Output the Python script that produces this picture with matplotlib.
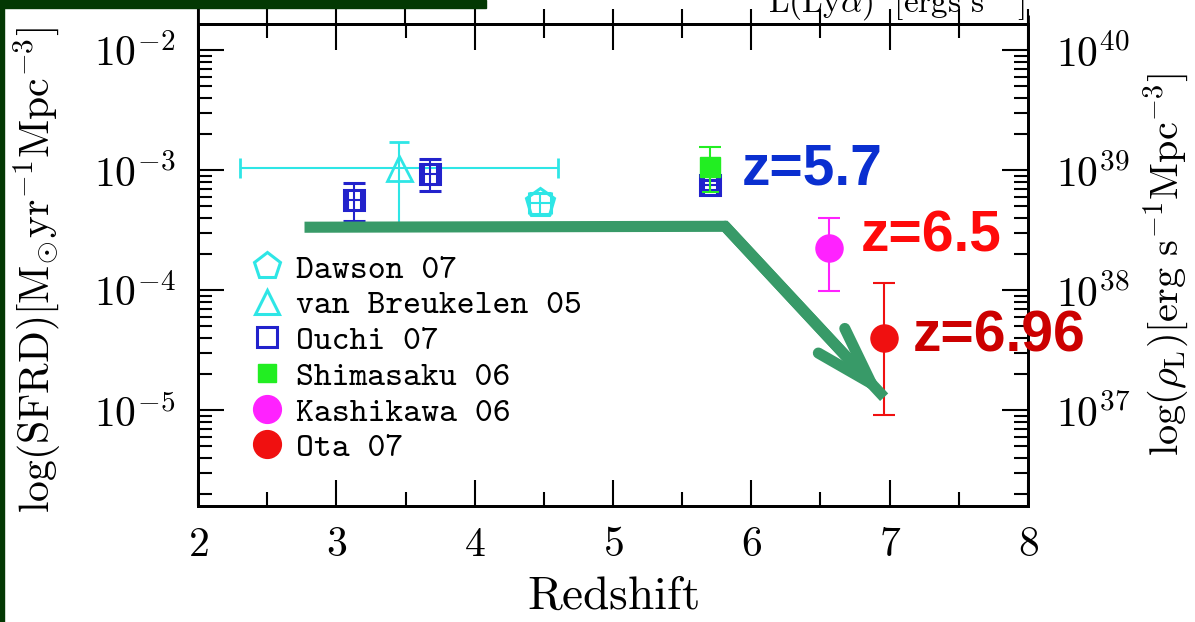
import numpy as np
import matplotlib
matplotlib.use('Agg')
import matplotlib.pyplot as plt
from matplotlib.lines import Line2D
from matplotlib.patches import Rectangle
from matplotlib.ticker import MultipleLocator, FuncFormatter, LogLocator, NullFormatter

plt.rcParams['mathtext.fontset'] = 'cm'
plt.rcParams['font.family'] = ['DejaVu Serif']

# ---------------- data ----------------
dawson_z = [4.47]
dawson_sfrd = [5.3e-4]
dawson_lo = [4.3e-4]
dawson_hi = [6.5e-4]
dawson_zerr = [0.08]

vb_z = [3.45]
vb_sfrd = [1.04e-3]
vb_lo = [3.2e-4]
vb_hi = [1.71e-3]
vb_zerr = [1.15]

ouchi_z = [3.13, 3.68, 5.70]
ouchi_sfrd = [5.7e-4, 9.4e-4, 7.5e-4]
ouchi_lo = [3.8e-4, 6.7e-4, 6.8e-4]
ouchi_hi = [7.9e-4, 1.24e-3, 8.3e-4]
ouchi_zerr = [0.05, 0.05, 0.05]

shim_z = [5.70]
shim_sfrd = [1.06e-3]
shim_lo = [6.6e-4]
shim_hi = [1.56e-3]

kash_z = [6.56]
kash_sfrd = [2.24e-4]
kash_lo = [9.8e-5]
kash_hi = [3.98e-4]

ota_z = [6.96]
ota_sfrd = [3.98e-5]
ota_lo = [9.1e-6]
ota_hi = [1.14e-4]

trend_z = [2.77, 5.81, 6.96]
trend_sfrd = [3.35e-4, 3.41e-4, 1.28e-5]

legend_labels = ['Dawson 07', 'van Breukelen 05', 'Ouchi 07',
                 'Shimasaku 06', 'Kashikawa 06', 'Ota 07']

z_labels = ['z=5.7', 'z=6.5', 'z=6.96']
z_label_z = [5.93, 6.79, 7.17]
z_label_sfrd = [1.02e-3, 2.8e-4, 4.1e-5]
z_label_colors = ['#0a2fd0', '#ff0a0a', '#cc0000']

xlim = (2, 8)
ylim = (10 ** -5.8, 10 ** -1.78)
rho_factor = 1e42

CYAN = '#2ee6e6'
BLUE = '#2222cc'
GREEN = '#22ee22'
MAGENTA = '#ff22ff'
RED = '#f01010'
ARROW = '#389a68'
DARKGREEN = '#033803'


def yerr(v, lo, hi):
    v = np.asarray(v); lo = np.asarray(lo); hi = np.asarray(hi)
    return [v - lo, hi - v]


fig = plt.figure(figsize=(11.95, 6.22), dpi=100)
ax = fig.add_axes([198 / 1195, 116 / 622, 830 / 1195, 482 / 622])
ax.set_xscale('linear')
ax.set_yscale('log')
ax.set_xlim(*xlim)
ax.set_ylim(*ylim)

eb_kw = dict(ls='none', elinewidth=1.5, capthick=1.5, zorder=3)

ax.errorbar(vb_z, vb_sfrd, yerr=yerr(vb_sfrd, vb_lo, vb_hi), xerr=vb_zerr,
            marker='^', ms=18, mfc='none', mec=CYAN, mew=2, color=CYAN,
            capsize=7, **eb_kw)
ax.errorbar(ouchi_z, ouchi_sfrd, yerr=yerr(ouchi_sfrd, ouchi_lo, ouchi_hi),
            xerr=ouchi_zerr, marker='s', ms=15, mfc='none', mec=BLUE, mew=2.2,
            color=BLUE, capsize=8, **eb_kw)
ax.errorbar(dawson_z, dawson_sfrd, yerr=yerr(dawson_sfrd, dawson_lo, dawson_hi),
            xerr=dawson_zerr, marker='p', ms=21, mfc='none', mec=CYAN, mew=2.2,
            color=CYAN, capsize=8, **eb_kw)
ax.errorbar(shim_z, shim_sfrd, yerr=yerr(shim_sfrd, shim_lo, shim_hi),
            marker='s', ms=14, mfc=GREEN, mec=GREEN, color=GREEN,
            capsize=8, **eb_kw)
ax.errorbar(kash_z, kash_sfrd, yerr=yerr(kash_sfrd, kash_lo, kash_hi),
            marker='o', ms=19.5, mfc=MAGENTA, mec=MAGENTA, color=MAGENTA,
            capsize=8, **eb_kw)
ax.errorbar(ota_z, ota_sfrd, yerr=yerr(ota_sfrd, ota_lo, ota_hi),
            marker='o', ms=19.5, mfc=RED, mec=RED, color=RED,
            capsize=8, **eb_kw)

# green trend arrow
ax.plot(trend_z, trend_sfrd, color=ARROW, lw=8, solid_joinstyle='miter',
        solid_capstyle='butt', zorder=5)
ax.annotate('', xy=(trend_z[-1], trend_sfrd[-1]),
            xytext=(trend_z[-2], trend_sfrd[-2]),
            arrowprops=dict(arrowstyle='->,head_length=42,head_width=13',
                            mutation_scale=1, lw=8, color=ARROW,
                            shrinkA=0, shrinkB=0, capstyle='round'),
            zorder=6)

# axes styling
for s in ax.spines.values():
    s.set_linewidth(2)
ax.xaxis.set_major_locator(MultipleLocator(1))
ax.xaxis.set_minor_locator(MultipleLocator(0.5))
ax.xaxis.set_major_formatter(FuncFormatter(lambda v, p: r'$%d$' % round(v)))
ax.yaxis.set_major_locator(LogLocator(base=10, numticks=20))
ax.yaxis.set_minor_locator(LogLocator(base=10, subs=np.arange(2, 10), numticks=20))
ax.yaxis.set_major_formatter(
    FuncFormatter(lambda v, p: r'$10^{%d}$' % round(np.log10(v))))
ax.yaxis.set_minor_formatter(NullFormatter())
ax.tick_params(axis='both', which='both', direction='in', width=1.5,
               top=True, right=False, labelsize=30)
ax.tick_params(axis='both', which='major', length=19)
ax.tick_params(axis='both', which='minor', length=10)
ax.tick_params(axis='x', which='major', pad=12)
ax.tick_params(axis='y', which='major', pad=16)

ax.set_xlabel(r'$\mathrm{Redshift}$', fontsize=34, labelpad=6)
ax.set_ylabel(r'$\log(\mathrm{SFRD})[\mathrm{M_{\odot}yr^{-1}Mpc^{-3}}]$',
              fontsize=30)
ax.yaxis.set_label_coords(-0.163, 0.49)

# outward ticks on the top (bottom axis of the panel above)
sec = ax.secondary_xaxis('top')
sec.xaxis.set_major_locator(MultipleLocator(0.5))
sec.tick_params(direction='out', length=11, width=1.5, labeltop=False)
sec.spines['top'].set_linewidth(2)

# spine extensions into the panel above
ax.plot([0, 0], [1, 1 + 17 / 482], transform=ax.transAxes, color='k', lw=2,
        clip_on=False, solid_capstyle='butt')
ax.plot([1, 1], [1, 1 + 9 / 482], transform=ax.transAxes, color='k', lw=2,
        clip_on=False, solid_capstyle='butt')

# right axis: Lyα luminosity density
ax2 = ax.twinx()
ax2.set_yscale('log')
ax2.set_ylim(ylim[0] * rho_factor, ylim[1] * rho_factor)
ax2.yaxis.set_major_locator(LogLocator(base=10, numticks=20))
ax2.yaxis.set_minor_locator(LogLocator(base=10, subs=np.arange(2, 10), numticks=20))
ax2.yaxis.set_major_formatter(
    FuncFormatter(lambda v, p: r'$10^{%d}$' % round(np.log10(v))))
ax2.yaxis.set_minor_formatter(NullFormatter())
ax2.tick_params(axis='y', which='both', direction='in', width=1.5, labelsize=30)
ax2.tick_params(axis='y', which='major', length=19, pad=20)
ax2.tick_params(axis='y', which='minor', length=10)
for s in ax2.spines.values():
    s.set_linewidth(2)
ax2.set_ylabel(r'$\log(\rho_{\rm L})[\mathrm{erg\ s^{-1}Mpc^{-3}}]$', fontsize=29)
ax2.yaxis.set_label_coords(1.137, 0.50)

# redshift annotations
for t, zx, sy, c in zip(z_labels, z_label_z, z_label_sfrd, z_label_colors):
    ax2.text(zx, sy, t, transform=ax.transData, color=c, fontsize=41,
             fontweight='bold', family='Liberation Sans', ha='left',
             va='center', zorder=10)

# legend (markers only)
handles = [
    Line2D([], [], ls='none', marker='p', ms=20, mfc='none', mec=CYAN, mew=2.2),
    Line2D([], [], ls='none', marker='^', ms=17, mfc='none', mec=CYAN, mew=2.2),
    Line2D([], [], ls='none', marker='s', ms=14, mfc='none', mec=BLUE, mew=2.2),
    Line2D([], [], ls='none', marker='s', ms=13, mfc=GREEN, mec=GREEN),
    Line2D([], [], ls='none', marker='o', ms=20, mfc=MAGENTA, mec=MAGENTA),
    Line2D([], [], ls='none', marker='o', ms=20, mfc=RED, mec=RED),
]
ax.legend(handles, legend_labels, loc='upper left',
          bbox_to_anchor=(0.0627, 0.523), frameon=False,
          prop={'family': 'cmtt10', 'size': 24.5}, handlelength=0.98,
          handletextpad=0.36, labelspacing=0.115, borderpad=0,
          borderaxespad=0, numpoints=1)

# top label of the panel above (cut at the image edge)
fig.text(1025 / 1195, 1 - 12 / 622, r'$\mathrm{L(Ly}\alpha\mathrm{)\ \ [ergs\ s^{-1}]}$',
         ha='right', va='baseline', fontsize=24)

# dark green slide frame
fig.patches.append(Rectangle((0, 0), 4 / 1195, 1, transform=fig.transFigure,
                             color=DARKGREEN, zorder=20))
fig.patches.append(Rectangle((0, 1 - 8 / 622), 486 / 1195, 8 / 622,
                             transform=fig.transFigure, color=DARKGREEN, zorder=20))

fig.savefig('out.png', dpi=100)
